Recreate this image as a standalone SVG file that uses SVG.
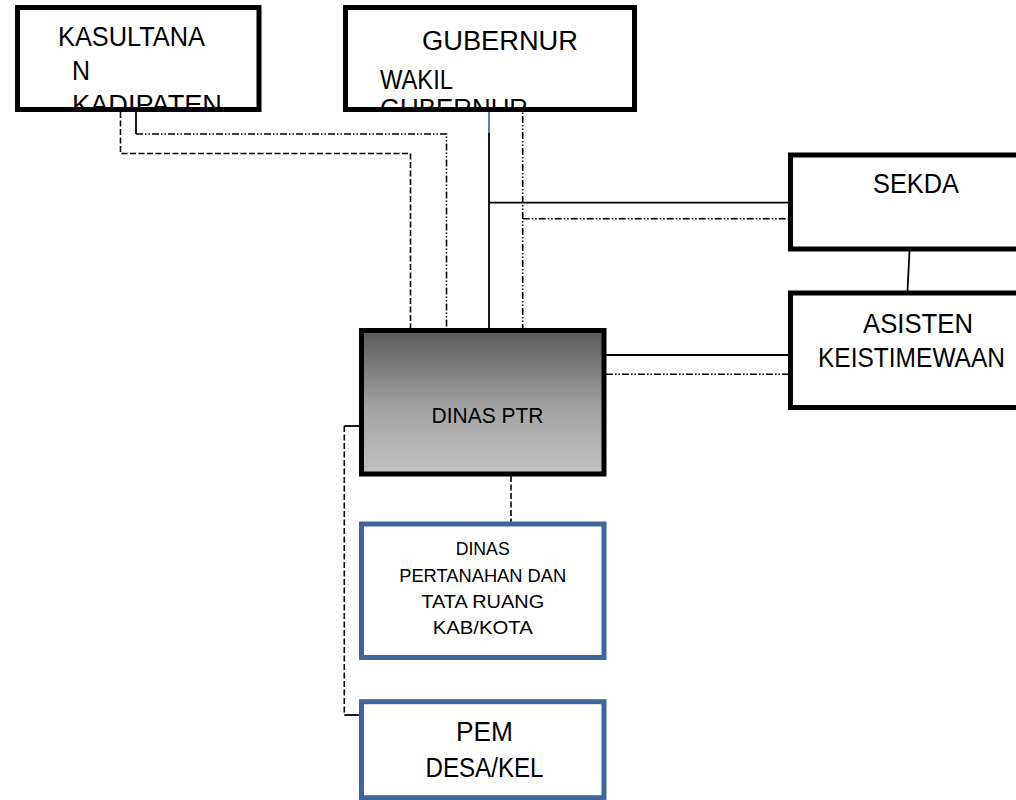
<svg xmlns="http://www.w3.org/2000/svg" width="1016" height="800" viewBox="0 0 1016 800">
  <style>
    .txt { font-family: "Liberation Sans", Arial, sans-serif; fill: #000; }
    .box { fill: #fff; stroke: #000; stroke-width: 5; }
    .bluebox { fill: #fff; stroke: #40659a; stroke-width: 5; }
    .solid { fill: none; stroke: #000; stroke-width: 1.8; }
    .dash { fill: none; stroke: #000; stroke-width: 1.6; stroke-dasharray: 6 2.5; }
    .dashdot { fill: none; stroke: #000; stroke-width: 1.6; stroke-dasharray: 7 2 1.5 2 1.5 2; }
  </style>
  <defs>
    <linearGradient id="ptrFill" x1="0" y1="0" x2="0" y2="1">
      <stop offset="0" stop-color="#5a5a5a"/>
      <stop offset="0.55" stop-color="#a4a4a4"/>
      <stop offset="1" stop-color="#c2c2c2"/>
    </linearGradient>
    <clipPath id="clipKas"><rect x="20" y="10" width="237" height="98"/></clipPath>
    <clipPath id="clipGub"><rect x="348" y="10" width="284" height="98"/></clipPath>
  </defs>

  <rect x="0" y="0" width="1016" height="800" fill="#fff"/>

  <!-- connectors -->
  <g id="connectors">
    <!-- Kasultanan / Kadipaten to Dinas PTR -->
    <polyline class="dash" points="120.5,112 120.5,153.5 410.5,153.5 410.5,328"/>
    <polyline class="solid" points="136,112 136,134"/>
    <polyline class="dashdot" points="136,134 446.5,134 446.5,328"/>
    <!-- Gubernur to Dinas PTR and Sekda -->
    <line x1="489" y1="100" x2="489" y2="134" stroke="#5b80b2" stroke-width="2"/>
    <polyline class="solid" points="489,133 489,328"/>
    <line class="solid" x1="489" y1="202.7" x2="788" y2="202.7"/>
    <polyline class="dashdot" points="522.7,100 522.7,328"/>
    <line class="dashdot" x1="522.7" y1="218.7" x2="788" y2="218.7"/>
    <!-- Sekda to Asisten -->
    <line class="solid" x1="909.5" y1="251" x2="907.5" y2="291"/>
    <!-- Dinas PTR to Asisten Keistimewaan -->
    <line class="solid" x1="606" y1="355" x2="788" y2="355"/>
    <line class="dashdot" x1="606" y1="374.3" x2="788" y2="374.3"/>
    <!-- Dinas PTR to Dinas Kab/Kota -->
    <line class="dash" x1="511" y1="476" x2="511" y2="522"/>
    <!-- Dinas PTR to Pem Desa/Kel -->
    <polyline class="solid" points="359,426 344.3,426"/>
    <polyline class="dash" points="344.3,426 344.3,715"/>
    <polyline class="solid" points="344.3,715 359,715"/>
  </g>

  <!-- Kasultanan / Kadipaten -->
  <g id="kasultanan">
    <rect x="17.5" y="7.5" width="241.5" height="102" fill="#fff"/>
    <g clip-path="url(#clipKas)" class="txt" font-size="27">
      <text x="58" y="46" textLength="147" lengthAdjust="spacingAndGlyphs">KASULTANA</text>
      <text x="72" y="80" textLength="18" lengthAdjust="spacingAndGlyphs">N</text>
      <text x="72" y="114" textLength="150" lengthAdjust="spacingAndGlyphs">KADIPATEN</text>
    </g>
    <rect class="box" x="17.5" y="7.5" width="241.5" height="102" style="fill:none"/>
  </g>

  <!-- Gubernur / Wakil Gubernur -->
  <g id="gubernur">
    <rect x="345.5" y="7.5" width="289" height="102" fill="#fff"/>
    <g clip-path="url(#clipGub)" class="txt" font-size="27">
      <text x="422" y="50" textLength="156" lengthAdjust="spacingAndGlyphs">GUBERNUR</text>
      <text x="380" y="89" textLength="73" lengthAdjust="spacingAndGlyphs">WAKIL</text>
      <text x="380" y="118" textLength="148" lengthAdjust="spacingAndGlyphs">GUBERNUR</text>
    </g>
    <rect class="box" x="345.5" y="7.5" width="289" height="102" style="fill:none"/>
  </g>

  <!-- Sekda -->
  <g id="sekda">
    <rect class="box" x="790.5" y="155" width="240" height="94"/>
    <text class="txt" x="916" y="193" font-size="27" text-anchor="middle" textLength="86" lengthAdjust="spacingAndGlyphs">SEKDA</text>
  </g>

  <!-- Asisten Keistimewaan -->
  <g id="asisten">
    <rect class="box" x="790.5" y="293" width="240" height="114.5"/>
    <text class="txt" x="918" y="332.7" font-size="27" text-anchor="middle" textLength="110" lengthAdjust="spacingAndGlyphs">ASISTEN</text>
    <text class="txt" x="911.5" y="366.7" font-size="27" text-anchor="middle" textLength="187" lengthAdjust="spacingAndGlyphs">KEISTIMEWAAN</text>
  </g>

  <!-- Dinas PTR -->
  <g id="dinas-ptr">
    <rect x="361.5" y="330.5" width="242.5" height="143.5" fill="url(#ptrFill)" stroke="#000" stroke-width="5"/>
    <text class="txt" x="487.5" y="423.3" font-size="22" text-anchor="middle" textLength="112" lengthAdjust="spacingAndGlyphs">DINAS PTR</text>
  </g>

  <!-- Dinas Pertanahan dan Tata Ruang Kab/Kota -->
  <g id="dinas-kabkota">
    <rect class="bluebox" x="361.5" y="524" width="242.5" height="133.5"/>
    <g class="txt" font-size="19" text-anchor="middle">
      <text x="482.7" y="555" textLength="54" lengthAdjust="spacingAndGlyphs">DINAS</text>
      <text x="482.7" y="581.7" textLength="167" lengthAdjust="spacingAndGlyphs">PERTANAHAN DAN</text>
      <text x="482.7" y="608.3" textLength="123" lengthAdjust="spacingAndGlyphs">TATA RUANG</text>
      <text x="482.7" y="634" textLength="100" lengthAdjust="spacingAndGlyphs">KAB/KOTA</text>
    </g>
  </g>

  <!-- Pem Desa/Kel -->
  <g id="pem-desa">
    <rect class="bluebox" x="361.5" y="701.7" width="242.5" height="96"/>
    <text class="txt" x="484.5" y="740.7" font-size="27" text-anchor="middle" textLength="57" lengthAdjust="spacingAndGlyphs">PEM</text>
    <text class="txt" x="484.5" y="776.7" font-size="27" text-anchor="middle" textLength="118" lengthAdjust="spacingAndGlyphs">DESA/KEL</text>
  </g>
</svg>
